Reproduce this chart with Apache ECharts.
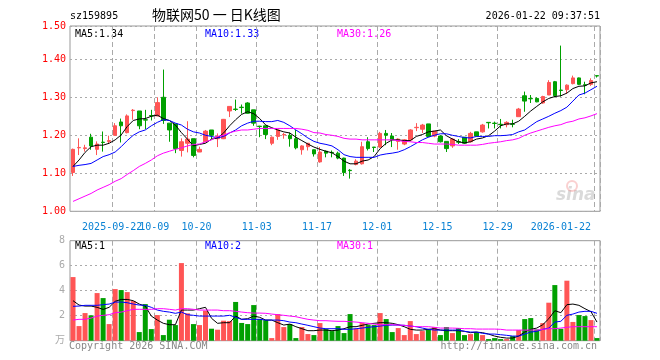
<!DOCTYPE html>
<html><head><meta charset="utf-8">
<script src="https://cdn.jsdelivr.net/npm/echarts@6/dist/echarts.min.js"></script>
<style>html,body{margin:0;padding:0;background:#fff}#c{width:660px;height:360px}</style>
</head><body><div id="c"></div>
<script>
const dates = ['2025-09-11','2025-09-12','2025-09-15','2025-09-16','2025-09-17','2025-09-18','2025-09-19','2025-09-22','2025-09-23','2025-09-24',
'2025-09-25','2025-09-26','2025-09-29','2025-09-30','2025-10-09','2025-10-10','2025-10-13','2025-10-14','2025-10-15','2025-10-16',
'2025-10-17','2025-10-20','2025-10-21','2025-10-22','2025-10-23','2025-10-24','2025-10-27','2025-10-28','2025-10-29','2025-10-30',
'2025-10-31','2025-11-03','2025-11-04','2025-11-05','2025-11-06','2025-11-07','2025-11-10','2025-11-11','2025-11-12','2025-11-13',
'2025-11-14','2025-11-17','2025-11-18','2025-11-19','2025-11-20','2025-11-21','2025-11-24','2025-11-25','2025-11-26','2025-11-27',
'2025-11-28','2025-12-01','2025-12-02','2025-12-03','2025-12-04','2025-12-05','2025-12-08','2025-12-09','2025-12-10','2025-12-11',
'2025-12-12','2025-12-15','2025-12-16','2025-12-17','2025-12-18','2025-12-19','2025-12-22','2025-12-23','2025-12-24','2025-12-25',
'2025-12-26','2025-12-29','2025-12-30','2025-12-31','2026-01-05','2026-01-06','2026-01-07','2026-01-08','2026-01-09','2026-01-12',
'2026-01-13','2026-01-14','2026-01-15','2026-01-16','2026-01-19','2026-01-20','2026-01-21','2026-01-22'];

const opens = [1.102,1.167,1.165,1.195,1.163,1.182,1.184,1.200,1.235,1.207,
1.265,1.264,1.241,1.252,1.251,1.300,1.232,1.230,1.160,1.179,
1.191,1.156,1.183,1.214,1.191,1.191,1.264,1.269,1.274,1.285,
1.267,1.224,1.225,1.179,1.197,1.201,1.200,1.191,1.162,1.170,
1.162,1.130,1.158,1.155,1.153,1.140,1.108,1.123,1.125,1.183,
1.169,1.169,1.205,1.198,1.184,1.177,1.188,1.220,1.216,1.230,
1.198,1.198,1.184,1.172,1.183,1.195,1.183,1.209,1.209,1.234,
1.232,1.229,1.228,1.230,1.249,1.304,1.297,1.297,1.285,1.306,
1.341,1.319,1.320,1.336,1.351,1.333,1.334,1.357];
const closes = [1.163,1.168,1.167,1.172,1.177,1.181,1.186,1.225,1.225,1.251,
1.266,1.225,1.240,1.251,1.286,1.239,1.214,1.165,1.183,1.190,
1.147,1.163,1.211,1.200,1.197,1.242,1.276,1.268,1.273,1.258,
1.232,1.223,1.202,1.195,1.214,1.202,1.191,1.167,1.172,1.179,
1.151,1.156,1.153,1.154,1.140,1.102,1.107,1.132,1.170,1.165,
1.168,1.205,1.200,1.188,1.190,1.188,1.214,1.221,1.227,1.197,
1.211,1.183,1.165,1.190,1.182,1.179,1.205,1.198,1.227,1.233,
1.231,1.228,1.234,1.229,1.269,1.290,1.296,1.288,1.302,1.339,
1.304,1.318,1.332,1.351,1.334,1.332,1.344,1.356];
const highs = [1.165,1.192,1.175,1.204,1.184,1.210,1.199,1.232,1.244,1.255,
1.269,1.264,1.267,1.267,1.300,1.373,1.232,1.230,1.192,1.237,
1.191,1.170,1.214,1.214,1.205,1.243,1.276,1.294,1.281,1.287,
1.267,1.225,1.225,1.197,1.216,1.206,1.207,1.214,1.174,1.179,
1.163,1.169,1.160,1.160,1.157,1.141,1.111,1.137,1.183,1.195,
1.169,1.209,1.214,1.206,1.192,1.190,1.216,1.232,1.230,1.230,
1.211,1.200,1.184,1.193,1.190,1.195,1.209,1.209,1.230,1.234,
1.236,1.243,1.237,1.241,1.272,1.315,1.306,1.300,1.304,1.345,
1.343,1.436,1.334,1.357,1.352,1.341,1.350,1.357];
const lows = [1.093,1.148,1.157,1.162,1.148,1.157,1.177,1.199,1.181,1.205,
1.241,1.216,1.216,1.239,1.250,1.230,1.183,1.153,1.144,1.155,
1.142,1.156,1.181,1.190,1.169,1.190,1.248,1.264,1.257,1.257,
1.225,1.195,1.190,1.174,1.188,1.191,1.170,1.163,1.149,1.160,
1.144,1.128,1.142,1.142,1.137,1.093,1.086,1.121,1.123,1.160,
1.156,1.167,1.174,1.169,1.162,1.174,1.184,1.211,1.206,1.195,
1.195,1.181,1.156,1.167,1.177,1.177,1.181,1.197,1.207,1.218,
1.218,1.218,1.221,1.221,1.249,1.262,1.285,1.287,1.283,1.306,
1.300,1.302,1.309,1.334,1.332,1.308,1.330,1.352];

const ma5 = [1.118,1.135,1.155,1.170,1.174,1.174,1.179,1.188,1.201,1.223,
1.239,1.243,1.244,1.250,1.253,1.244,1.239,1.227,1.207,1.190,
1.172,1.176,1.179,1.190,1.193,1.206,1.225,1.241,1.255,1.262,
1.257,1.244,1.227,1.220,1.214,1.209,1.206,1.195,1.186,1.177,
1.169,1.163,1.158,1.154,1.144,1.132,1.125,1.125,1.132,1.135,
1.144,1.165,1.179,1.188,1.188,1.186,1.186,1.197,1.202,1.209,
1.211,1.214,1.199,1.190,1.183,1.180,1.183,1.190,1.193,1.199,
1.211,1.225,1.230,1.230,1.237,1.250,1.264,1.276,1.288,1.297,
1.302,1.304,1.311,1.323,1.329,1.330,1.338,1.341];
const ma10 = [1.118,1.121,1.123,1.126,1.135,1.144,1.149,1.156,1.170,1.186,
1.200,1.209,1.214,1.225,1.234,1.241,1.239,1.232,1.227,1.216,
1.209,1.206,1.200,1.197,1.193,1.197,1.206,1.214,1.225,1.232,
1.237,1.237,1.236,1.236,1.239,1.234,1.225,1.214,1.204,1.193,
1.184,1.179,1.176,1.172,1.162,1.149,1.144,1.142,1.142,1.142,
1.142,1.148,1.151,1.153,1.156,1.162,1.170,1.179,1.188,1.195,
1.200,1.204,1.204,1.200,1.197,1.194,1.193,1.197,1.197,1.197,
1.199,1.199,1.200,1.202,1.209,1.214,1.225,1.236,1.243,1.250,
1.258,1.265,1.274,1.290,1.306,1.311,1.320,1.329];
const ma30 = [1.026,1.033,1.040,1.047,1.056,1.063,1.070,1.079,1.086,1.097,
1.107,1.118,1.126,1.135,1.146,1.153,1.158,1.163,1.167,1.172,
1.176,1.177,1.183,1.188,1.197,1.200,1.207,1.211,1.214,1.214,
1.216,1.218,1.218,1.218,1.218,1.218,1.218,1.218,1.216,1.213,
1.207,1.206,1.202,1.200,1.197,1.192,1.190,1.190,1.188,1.188,
1.188,1.188,1.188,1.188,1.186,1.184,1.183,1.181,1.181,1.179,
1.177,1.177,1.177,1.176,1.174,1.174,1.174,1.174,1.176,1.179,
1.181,1.183,1.186,1.188,1.192,1.200,1.206,1.211,1.216,1.221,
1.225,1.228,1.234,1.237,1.243,1.246,1.251,1.257];

const volumes = [5.09,1.17,2.21,2.03,3.81,3.41,1.33,4.13,4.05,3.89,
3.17,0.69,2.93,0.93,2.05,0.45,1.68,1.25,6.21,2.19,
1.33,1.25,2.40,0.96,0.88,1.60,1.57,3.10,1.42,1.33,
2.85,1.73,1.65,0.21,2.13,1.09,1.33,0.21,1.09,0.53,
0.45,1.41,0.93,0.77,1.17,0.61,2.13,0.96,1.41,1.25,
1.25,2.21,1.73,0.69,1.01,0.45,1.57,0.53,0.77,0.93,
1.09,0.45,1.09,0.61,1.01,0.45,0.53,0.69,0.45,0.13,
0.21,0.13,0.13,0.37,0.85,1.73,1.81,0.90,1.41,3.04,
4.45,0.95,4.80,1.50,2.05,1.97,1.65,0.21];
const volMa5 = [3.20,2.85,2.77,2.77,2.67,2.50,2.67,3.15,3.30,3.30,
3.20,2.93,2.77,1.97,1.65,1.39,1.28,1.28,2.45,2.45,
2.45,2.56,2.67,1.79,1.39,1.44,1.44,1.97,1.71,1.76,
1.97,1.87,1.65,1.65,1.44,1.25,1.33,1.12,0.96,0.80,
0.80,0.85,0.85,0.80,0.85,0.96,1.12,1.12,1.23,1.33,
1.39,1.44,1.44,1.39,1.28,1.12,0.91,0.85,0.85,0.91,
0.96,0.85,0.80,0.80,0.80,0.75,0.64,0.69,0.64,0.53,
0.37,0.27,0.21,0.21,0.37,0.69,0.91,1.01,1.28,1.76,
2.40,2.24,2.88,2.93,2.83,2.56,2.32,1.49];
const volMa10 = [2.75,2.77,2.83,2.83,2.83,2.88,2.93,3.09,3.09,3.04,
2.93,2.85,2.83,2.67,2.45,2.35,2.29,2.19,2.29,2.08,
2.03,1.97,1.97,1.97,1.97,1.97,2.03,1.87,1.71,1.71,
1.71,1.71,1.65,1.65,1.65,1.60,1.49,1.44,1.33,1.23,
1.12,1.01,0.96,0.96,0.96,0.91,0.91,0.96,1.01,1.07,
1.12,1.17,1.23,1.25,1.25,1.23,1.17,1.12,1.01,0.91,
0.85,0.85,0.85,0.85,0.85,0.75,0.69,0.69,0.59,0.53,
0.53,0.48,0.43,0.37,0.37,0.53,0.69,0.75,0.91,1.01,
1.49,1.55,2.03,2.13,2.29,2.35,2.35,2.19];
const volMa30 = [1.65,1.71,1.71,1.81,1.97,2.03,2.08,2.24,2.29,2.40,
2.51,2.51,2.51,2.51,2.56,2.56,2.51,2.45,2.56,2.56,
2.51,2.45,2.45,2.45,2.45,2.40,2.40,2.35,2.29,2.24,
2.21,2.21,2.19,2.13,2.08,2.03,1.97,1.92,1.81,1.71,
1.65,1.60,1.60,1.57,1.55,1.55,1.52,1.49,1.44,1.39,
1.33,1.28,1.28,1.28,1.25,1.23,1.17,1.12,1.12,1.12,
1.07,1.01,1.01,1.01,0.99,0.96,0.96,0.93,0.93,0.93,
0.93,0.91,0.85,0.85,0.85,0.85,0.85,0.85,0.91,0.96,
0.96,1.01,1.07,1.12,1.12,1.12,1.12,1.12];

const labelIndices = [7,14,21,31,41,51,61,71,87];
const fullLabelIndices = [7,87];
const priceMin = 1.00, priceMax = 1.4876, priceStep = 0.1;
const volMin = 0, volMax = 8, volStep = 2;

const UP = '#ff5555', DOWN = '#00a000';
const MONO = 'DejaVu Sans Mono, monospace';
const labelSet = new Set(labelIndices);

const chart = echarts.init(document.getElementById('c'), null, {renderer: 'canvas'});
const kData = dates.map((d, i) => [opens[i], closes[i], lows[i], highs[i]]);
const volData = volumes.map((v, i) => ({value: v, itemStyle: {color: closes[i] > opens[i] ? UP : DOWN}}));

const dashed = {show: true, interval: (i) => labelSet.has(i), lineStyle: {color: '#aaa', type: [5, 3], width: 1}};
const lineS = (name, data, color, xi, yi) => ({name, type: 'line', data, xAxisIndex: xi, yAxisIndex: yi,
  symbol: 'none', lineStyle: {width: 1, color}, itemStyle: {color}, silent: true});

chart.setOption({
  animation: false,
  backgroundColor: '#fff',
  grid: [
    {left: 70, top: 26, width: 530, height: 185.3, show: true, borderColor: '#999', borderWidth: 1},
    {left: 70, top: 240.7, width: 530, height: 100, show: true, borderColor: '#999', borderWidth: 1}
  ],
  xAxis: [
    {type: 'category', data: dates, gridIndex: 0, boundaryGap: true,
     axisLine: {show: false}, axisTick: {show: false}, splitLine: dashed,
     axisLabel: {interval: 0, color: '#0a82d4', fontFamily: MONO, fontSize: 10, margin: 11,
       padding: [0, 6, 0, 0], hideOverlap: false, alignMaxLabel: 'right',
       formatter: (v, i) => !labelSet.has(i) ? '' : (fullLabelIndices.indexOf(i) >= 0 ? v : v.slice(5))}},
    {type: 'category', data: dates, gridIndex: 1, boundaryGap: true,
     axisLine: {show: false}, axisTick: {show: false}, splitLine: dashed, axisLabel: {show: false}}
  ],
  yAxis: [
    {type: 'value', gridIndex: 0, min: priceMin, max: priceMax, interval: priceStep,
     axisLine: {show: false}, axisTick: {show: false},
     splitLine: {show: true, lineStyle: {color: '#aaa', type: [2, 3]}},
     axisLabel: {color: '#ff0000', fontFamily: MONO, fontSize: 10, margin: 4,
       formatter: (v) => v > 1.45 ? '1.50' : v.toFixed(2)}},
    {type: 'value', gridIndex: 1, min: volMin, max: volMax, interval: volStep,
     axisLine: {show: false}, axisTick: {show: false},
     splitLine: {show: true, lineStyle: {color: '#aaa', type: [2, 3]}},
     axisLabel: {color: '#aaa', fontFamily: 'DejaVu Sans Mono, Noto Sans CJK SC', fontSize: 10, margin: 5,
       formatter: (v) => v === 0 ? '万' : String(v)}}
  ],
  series: [
    {name: 'K', type: 'candlestick', data: kData, xAxisIndex: 0, yAxisIndex: 0, barWidth: 4,
     itemStyle: {color: UP, color0: DOWN, borderColor: UP, borderColor0: DOWN, borderWidth: 1}, silent: true},
    lineS('MA5', ma5, '#000000', 0, 0),
    lineS('MA10', ma10, '#0000ff', 0, 0),
    lineS('MA30', ma30, '#ff00ff', 0, 0),
    {name: 'VOL', type: 'bar', data: volData, xAxisIndex: 1, yAxisIndex: 1, barWidth: 5, silent: true},
    lineS('VMA5', volMa5, '#000000', 1, 1),
    lineS('VMA10', volMa10, '#0000ff', 1, 1),
    lineS('VMA30', volMa30, '#ff00ff', 1, 1)
  ],
  graphic: [
    {type: 'text', left: 70, top: 11, style: {text: 'sz159895', font: '10px ' + MONO, fill: '#000'}},
    {type: 'text', left: 152, top: 8, style: {text: '物联网50 一 日K线图', font: '14px "Noto Sans CJK SC"', fill: '#000'}},
    {type: 'text', right: 60, top: 11, style: {text: '2026-01-22 09:37:51', font: '10px ' + MONO, fill: '#000'}},
    {type: 'text', left: 75, top: 29, style: {text: 'MA5:1.34', font: '10px ' + MONO, fill: '#000'}},
    {type: 'text', left: 205, top: 29, style: {text: 'MA10:1.33', font: '10px ' + MONO, fill: '#0000ff'}},
    {type: 'text', left: 337, top: 29, style: {text: 'MA30:1.26', font: '10px ' + MONO, fill: '#ff00ff'}},
    {type: 'text', left: 75, top: 241, style: {text: 'MA5:1', font: '10px ' + MONO, fill: '#000'}},
    {type: 'text', left: 205, top: 241, style: {text: 'MA10:2', font: '10px ' + MONO, fill: '#0000ff'}},
    {type: 'text', left: 337, top: 241, style: {text: 'MA30:1', font: '10px ' + MONO, fill: '#ff00ff'}},
    {type: 'text', left: 69, top: 341, style: {text: 'Copyright 2026 SINA.COM', font: '10px ' + MONO, fill: '#888'}},
    {type: 'text', right: 63, top: 341, style: {text: 'http://finance.sina.com.cn', font: '10px ' + MONO, fill: '#888'}},
    {type: 'text', left: 556, top: 187, style: {text: 'sina', font: 'italic bold 17px "DejaVu Sans"', fill: 'rgba(150,150,150,0.35)'}},
    {type: 'circle', shape: {cx: 572, cy: 186, r: 5}, style: {fill: 'none', stroke: 'rgba(240,120,120,0.35)', lineWidth: 2}}
  ]
});
</script>
</body></html>
